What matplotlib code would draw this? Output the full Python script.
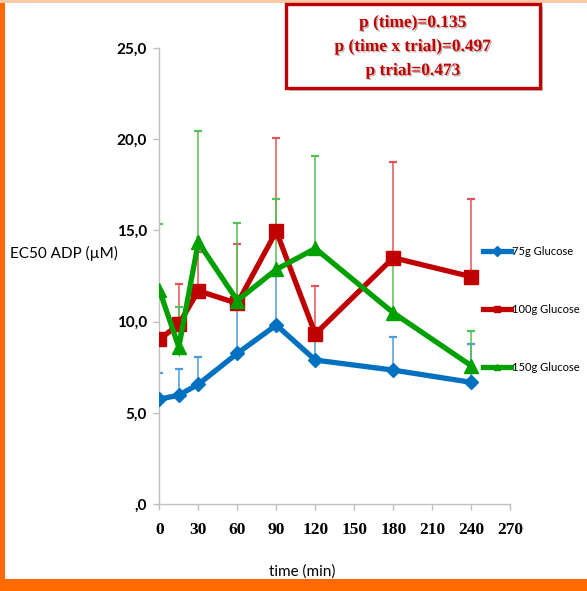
import matplotlib
matplotlib.use("Agg")
import matplotlib.pyplot as plt
from matplotlib.lines import Line2D
from matplotlib.patches import Rectangle
import matplotlib.patheffects as pe

# Sampling times (min)
time_min = [0, 15, 30, 60, 90, 120, 180, 240]

# EC50 ADP means (µM) and upper error (µM) for each glucose load
g75_mean = [5.74, 5.97, 6.56, 8.26, 9.81, 7.89, 7.34, 6.67]
g75_err = [1.46, 1.41, 1.51, 2.74, 2.99, 1.41, 1.79, 2.08]

g100_mean = [9.02, 9.85, 11.69, 11.00, 14.95, 9.32, 13.50, 12.46]
g100_err = [2.38, 2.19, 2.11, 3.28, 5.12, 2.64, 5.24, 4.24]

g150_mean = [11.75, 8.60, 14.35, 11.15, 12.86, 14.01, 10.48, 7.58]
g150_err = [3.59, 2.20, 6.10, 4.28, 3.84, 5.09, 2.82, 1.90]

series_labels = ["75g Glucose", "100g Glucose", "150g Glucose"]

x_ticks = [0, 30, 60, 90, 120, 150, 180, 210, 240, 270]
y_ticks = [0, 5, 10, 15, 20, 25]
y_ticklabels = [",0", "5,0", "10,0", "15,0", "20,0", "25,0"]

stats_lines = ["p (time)=0.135", "p (time x trial)=0.497", "p trial=0.473"]

W, H = 587, 591
fig = plt.figure(figsize=(W / 100, H / 100), dpi=100)
fig.patch.set_facecolor("white")

# Orange frame on the left and bottom edges, faint tint at the top
fig.patches.append(Rectangle((0, 0), 5 / W, 1, transform=fig.transFigure,
                             facecolor="#FF6A00", edgecolor="none", zorder=0))
fig.patches.append(Rectangle((0, 0), 1, 12 / H, transform=fig.transFigure,
                             facecolor="#FF6A00", edgecolor="none", zorder=0))
fig.patches.append(Rectangle((0, 1 - 3 / H), 1, 3 / H, transform=fig.transFigure,
                             facecolor="#F9C9A8", edgecolor="none", zorder=0))

x0, x1 = 159.3, 510.3
y0, y1 = 504.0, 48.0
ax = fig.add_axes([x0 / W, 1 - y0 / H, (x1 - x0) / W, (y0 - y1) / H])
ax.set_facecolor("none")

styles = [
    (g75_mean, g75_err, "#0070C0", "#4F9BD9", "#1F7FD0", "D", 7.5),
    (g100_mean, g100_err, "#C00000", "#E05555", "#D02020", "s", 9.5),
    (g150_mean, g150_err, "#00A000", "#55C055", "#1E9E1E", "^", 10.5),
]

# Upper-only error bars behind the lines
for mean, err, col, ecol, ccol, mk, ms in styles:
    eb = ax.errorbar(time_min, mean, yerr=[[0] * len(err), err], fmt="none",
                     ecolor=ecol, elinewidth=1.1, capsize=3.2, capthick=1.6,
                     zorder=2)
    caps = eb[1]
    if len(caps) == 2:
        caps[0].set_visible(False)
        caps[1].set_color(ccol)

for i, (mean, err, col, ecol, ccol, mk, ms) in enumerate(styles):
    ax.plot(time_min, mean, color=col, lw=3.8, marker=mk, ms=ms,
            markeredgecolor=col, solid_joinstyle="miter", zorder=3 + i)

ax.set_xlim(0, 270)
ax.set_ylim(0, 25)
ax.set_xticks(x_ticks)
ax.set_xticklabels([str(t) for t in x_ticks], fontfamily="Liberation Serif",
                   fontweight="bold", fontsize=12.5)
ax.set_yticks(y_ticks)
ax.set_yticklabels(y_ticklabels, fontfamily="Lato", fontweight="bold",
                   fontsize=11)

for s in ["top", "right"]:
    ax.spines[s].set_visible(False)
for s in ["left", "bottom"]:
    ax.spines[s].set_color("#BFBFBF")
    ax.spines[s].set_linewidth(1)
ax.tick_params(axis="both", direction="out", color="#BFBFBF", length=4,
               width=1)
ax.tick_params(axis="x", pad=9)
ax.tick_params(axis="y", pad=5)

ax.set_ylabel("EC50 ADP (µM)", rotation=0, fontfamily="Lato", fontsize=11,
              ha="left", va="center")
ax.yaxis.set_label_coords((10 - x0) / (x1 - x0), (y0 - 253) / (y0 - y1))
ax.set_xlabel("time (min)", fontfamily="Lato", fontsize=11, va="center")
ax.xaxis.set_label_coords((302 - x0) / (x1 - x0), (y0 - 572) / (y0 - y1))

# Legend at the right
handles = [
    Line2D([], [], color=st[2], lw=3.8, marker=st[5], ms=5) for st in styles
]
fig.legend(handles, series_labels, loc="center left",
           bbox_to_anchor=(483 / W, 1 - 309.5 / H), frameon=False,
           prop={"family": "Lato", "size": 8},
           handlelength=2.5, handletextpad=0.1, labelspacing=4.2,
           borderpad=0, borderaxespad=0)

# Statistics box at the top
bx0, bx1, by0, by1 = 286, 540, 4, 88
box = Rectangle((bx0 / W, 1 - by1 / H), (bx1 - bx0) / W, (by1 - by0) / H,
                transform=fig.transFigure, facecolor="white",
                edgecolor="#C00000", linewidth=2.4, zorder=5)
box.set_path_effects([pe.SimplePatchShadow(offset=(2, -2), alpha=0.35),
                      pe.Normal()])
fig.patches.append(box)
for k, line in enumerate(stats_lines):
    t = fig.text(413 / W, 1 - (23 + 24 * k) / H, line, ha="center",
                 va="center", color="#C00000", fontfamily="Liberation Serif",
                 fontweight="bold", fontsize=12.5, zorder=6)
    t.set_path_effects([pe.SimplePatchShadow(offset=(1, -1), alpha=0.3),
                        pe.Normal()])

fig.savefig("out.png", dpi=100, facecolor=fig.get_facecolor())
